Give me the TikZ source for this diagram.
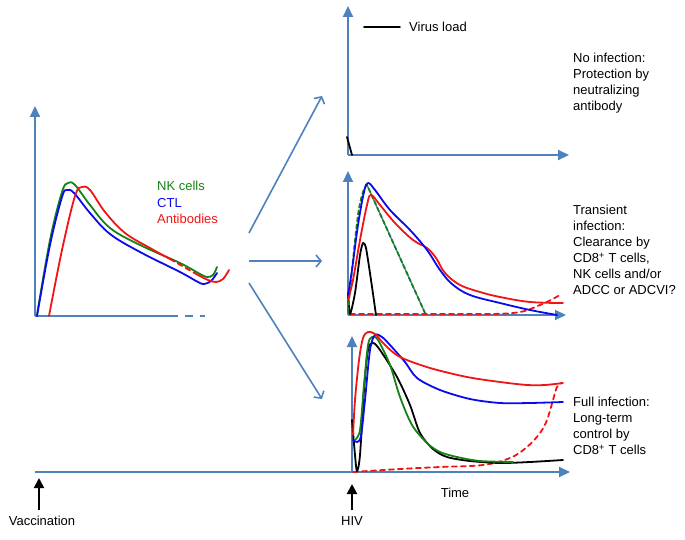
\documentclass[tikz,border=0pt]{standalone}
\usepackage{fontspec}
\setmainfont{Liberation Sans}
\usepackage{xcolor}
\usepackage{tikz}
\usetikzlibrary{arrows.meta,positioning}

\definecolor{axisblue}{RGB}{79,129,189}
\definecolor{nkgreen}{RGB}{20,130,20}
\definecolor{ctlblue}{RGB}{10,10,235}
\definecolor{abred}{RGB}{240,20,20}

\begin{document}
\begin{tikzpicture}[
  x=1pt,y=-1pt,
  axis/.style={draw=axisblue,line width=2pt,-{Triangle[length=11pt,width=10pt]}},
  branch/.style={draw=axisblue,line width=1.6pt,-{Straight Barb[length=5pt,width=12pt]}},
  event/.style={draw=black,line width=2pt,-{Triangle[length=10pt,width=10pt]}},
  crv/.style={line width=1.8pt,line join=round,line cap=round},
  label/.style={font=\fontsize{13}{16}\selectfont,inner sep=0pt},
  note/.style={label,align=left,anchor=north west}
]
  \useasboundingbox (0,0) rectangle (685,540);

  % axes
  \coordinate (lo) at (35,316);
  \coordinate (ly) at (35,106);
  \coordinate (lx) at (170,316);
  \coordinate (lxe) at (205,316);
  \coordinate (to) at (348,155);
  \coordinate (ty) at (348,6);
  \coordinate (tx) at (569,155);
  \coordinate (mo) at (348,315);
  \coordinate (my) at (348,171);
  \coordinate (mx) at (566,315);
  \coordinate (bo) at (352,472);
  \coordinate (by) at (352,336);
  \coordinate (tl) at (35,472);
  \coordinate (tlx) at (570,472);
  \draw[axis] (lo) -- (ly);
  \draw[draw=axisblue,line width=2pt] (lo) -- (lx);
  \draw[draw=axisblue,line width=2pt,dash pattern=on 8pt off 7pt] (lx) -- (lxe);
  \draw[axis] (to) -- (ty);
  \draw[axis] (to) -- (tx);
  \draw[axis] (mo) -- (my);
  \draw[axis] (mo) -- (mx);
  \draw[axis] (bo) -- (by);
  \draw[axis] (tl) -- (tlx);

  % vaccination response
  \draw[crv,nkgreen] plot[smooth,tension=0.6] coordinates {(37,315) (50,240) (62,192) (68,183) (75,185) (90,205) (110,228) (140,245) (180,263) (200,274) (207,277) (213,275) (217,267)};
  \draw[crv,ctlblue] plot[smooth,tension=0.6] coordinates {(37,316) (50,245) (62,197) (67,190) (74,193) (90,213) (110,234) (140,252) (180,272) (198,282) (204,284) (211,281) (217,273)};
  \draw[crv,abred] plot[smooth,tension=0.6] coordinates {(49,316) (62,250) (75,196) (82,187) (90,190) (105,212) (125,233) (150,248) (170,259)};
  \draw[crv,abred,dash pattern=on 5pt off 4pt] (170,259) -- (198,275);
  \draw[crv,abred] plot[smooth,tension=0.6] coordinates {(198,275) (208,280) (216,282) (223,279) (229,270)};
  \node[label,anchor=west,text=nkgreen] (nk) at (157,186) {NK cells};
  \node[label,anchor=west,text=ctlblue] (ctl) at (157,203) {CTL};
  \node[label,anchor=west,text=abred] (ab) at (157,219) {Antibodies};

  % branches
  \coordinate (b1s) at (249,233);
  \coordinate (b1e) at (322,96);
  \coordinate (b2s) at (249,261);
  \coordinate (b2e) at (322,261);
  \coordinate (b3s) at (249,283);
  \coordinate (b3e) at (322,399);
  \draw[branch] (b1s) -- (b1e);
  \draw[branch] (b2s) -- (b2e);
  \draw[branch] (b3s) -- (b3e);

  % no infection
  \draw[crv,black] (347,137) -- (352,155);
  \coordinate (vl1) at (364,27);
  \coordinate (vl2) at (400,27);
  \draw[crv,black] (vl1) -- (vl2);
  \node[label,anchor=west] (vload) at (409,27) {Virus load};
  \node[note] (noinf) at (573,53) {No infection:\\Protection by\\neutralizing\\antibody};

  % transient infection
  \draw[crv,abred,dash pattern=on 5pt off 4pt] plot[smooth,tension=0.6] coordinates {(350,314) (450,314) (513,313) (540,305) (560,295)};
  \draw[crv,black] plot[smooth,tension=0.4] coordinates {(348,293) (350,314) (355,293) (360,255) (363,243) (366,248) (371,280) (376,315)};
  \draw[line width=1.4pt,axisblue] (367,185) -- (425,313);
  \draw[crv,nkgreen,dash pattern=on 4pt off 3pt] plot[smooth,tension=0.6] coordinates {(348,312) (352,270) (358,215) (363,192) (367,185)} -- (425,313);
  \draw[crv,abred] plot[smooth,tension=0.6] coordinates {(348,300) (353,280) (360,240) (367,205) (371,195) (380,205) (395,223) (413,240) (427,248) (436,258) (445,273) (460,285) (480,292) (500,297) (530,302) (563,303)};
  \draw[crv,ctlblue] plot[smooth,tension=0.6] coordinates {(348,295) (352,270) (358,225) (364,192) (368,183) (375,190) (390,210) (410,230) (427,250) (440,270) (452,284) (470,295) (500,303) (530,310) (557,315)};
  \node[note] (transinf) at (573,205) {Transient\\infection:\\Clearance by\\CD8\textsuperscript{+} T cells,\\NK cells and/or\\ADCC or ADCVI?};

  % full infection
  \draw[crv,abred,dash pattern=on 5pt off 4pt] plot[smooth,tension=0.6] coordinates {(353,472) (400,469) (440,467) (483,465) (510,458) (527,447) (540,433) (547,420) (553,400) (557,387) (562,383)};
  \draw[crv,black] plot[smooth,tension=0.5] coordinates {(352,420) (355,455) (357,471) (360,455) (364,390) (368,350) (373,343) (380,350) (397,377) (410,405) (420,433) (433,449) (447,457) (470,461) (500,463) (530,462) (563,460)};
  \draw[crv,nkgreen] plot[smooth,tension=0.5] coordinates {(355,440) (360,430) (364,385) (368,345) (372,337) (378,340) (390,365) (400,397) (412,425) (427,443) (440,452) (457,457) (480,461) (513,462)};
  \draw[crv,ctlblue] plot[smooth,tension=0.5] coordinates {(353,440) (357,442) (361,436) (365,400) (370,350) (375,335) (382,337) (390,345) (405,362) (417,378) (440,390) (470,399) (500,403) (530,403) (563,402)};
  \draw[crv,abred] plot[smooth,tension=0.5] coordinates {(353,435) (355,400) (359,360) (363,338) (368,332) (375,334) (385,345) (400,357) (430,368) (467,377) (500,382) (527,385) (545,385) (563,383)};
  \node[note] (fullinf) at (573,397) {Full infection:\\Long-term\\control by\\CD8\textsuperscript{+} T cells};
  \node[label] (time) at (455,493) {Time};

  % events
  \node[label] (vacc) at (42,521) {Vaccination};
  \node[label] (hiv) at (352,521) {HIV};
  \coordinate (vacctip) at (39,478);
  \coordinate (hivtip) at (352,484);
  \draw[event] ([yshift=6pt]vacc.north -| vacctip) -- (vacctip);
  \draw[event] ([yshift=6pt]hiv.north) -- (hivtip);
\end{tikzpicture}
\end{document}
